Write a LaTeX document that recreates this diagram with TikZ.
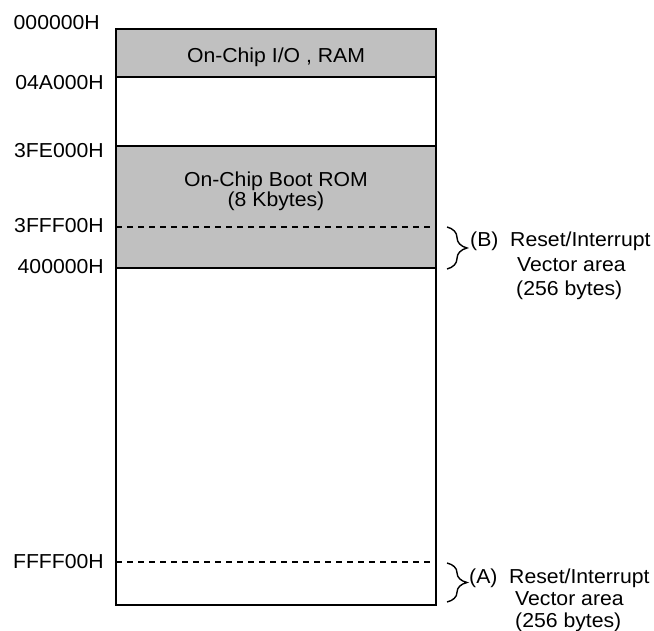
\documentclass[tikz,border=0pt]{standalone}
\usepackage{fontspec}
\setmainfont[FakeStretch=1.05]{Liberation Sans}
\usetikzlibrary{decorations.pathreplacing}
\definecolor{romgray}{RGB}{192,192,192}
\begin{document}
\begin{tikzpicture}[x=1pt,y=-1pt,
  txt/.style={font=\fontsize{20.2}{24}\selectfont, inner sep=0pt},
  addr/.style={txt, anchor=base east},
  note/.style={txt, anchor=base west},
  inner/.style={line width=1.6pt},
  sepline/.style={line width=1.3pt, dash pattern=on 6pt off 5pt},
  vbrace/.style={decorate, decoration={brace, amplitude=20pt}, line width=1.4pt}]
\useasboundingbox (0,0) rectangle (654,631);
% shaded regions
\fill[romgray] (116,29) rectangle (436,77);
\fill[romgray] (116,146) rectangle (436,268);
\draw[inner] (116,77) -- (436,77);
\draw[inner] (116,146) -- (436,146);
\draw[inner] (116,268) -- (436,268);
\draw[sepline] (116,227) -- (436,227);
\draw[sepline] (116,562) -- (436,562);
\draw[line width=2pt] (116,29) rectangle (436,605);
% region texts
\node[txt, anchor=base] (ram) at (276,63) {On-Chip I/O , RAM};
\node[txt, anchor=base] (rom) at (276,187) {On-Chip Boot ROM};
\node[txt, anchor=base] (romsize) at (276,206.5) {(8 Kbytes)};
% addresses
\node[addr] (a0) at (100,30) {000000H};
\node[addr] (a1) at (104,90) {04A000H};
\node[addr] (a2) at (104,158) {3FE000H};
\node[addr] (a3) at (104,233) {3FFF00H};
\node[addr] (a4) at (104,274) {400000H};
\node[addr] (a5) at (104,568) {FFFF00H};
% braces
\coordinate (bB1) at (447,227);
\coordinate (bB2) at (447,269);
\coordinate (bA1) at (447,563);
\coordinate (bA2) at (447,602);
\draw[vbrace] (bB1) -- (bB2);
\draw[vbrace] (bA1) -- (bA2);
% notes
\node[note] (nB1) at (470,246.5) {(B)\ \ Reset/Interrupt};
\node[note] (nB2) at (517,271.5) {Vector area};
\node[note] (nB3) at (516,296) {(256 bytes)};
\node[note] (nA1) at (469,583) {(A)\ \ Reset/Interrupt};
\node[note] (nA2) at (515,605) {Vector area};
\node[note] (nA3) at (515,627) {(256 bytes)};
\end{tikzpicture}
\end{document}
